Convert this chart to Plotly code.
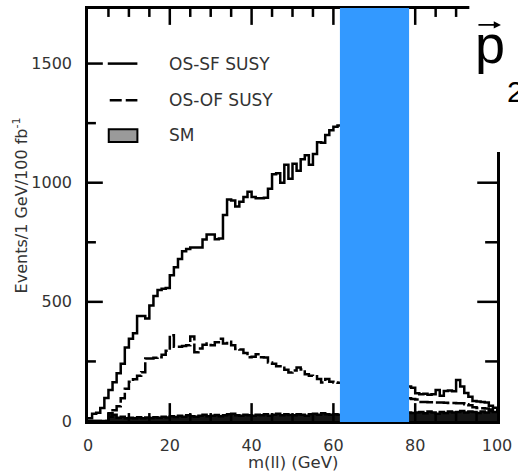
import plotly.graph_objects as go

# 1 GeV bins in m(ll), 0-100 GeV
bin_edges = list(range(0, 101))

# Events / 1 GeV / 100 fb^-1
os_sf_susy = [
    12, 30, 35, 55, 96, 130, 163, 200, 240, 308,
    345, 368, 441, 441, 430, 485, 525, 550, 555, 558,
    612, 645, 680, 712, 722, 728, 728, 728, 762, 783,
    783, 763, 766, 865, 930, 925, 900, 920, 940, 962,
    940, 935, 935, 937, 975, 1035, 1040, 1000, 1075, 1017,
    1080, 1050, 1098, 1115, 1075, 1120, 1170, 1168, 1200, 1220,
    1235, 1240, 1252, 1258, 1270, 1282, 1290, 1305, 1300, 1318,
    1330, 1325, 1345, 1350, 1362, 1370, 1375, 1390, 145, 140,
    116, 112, 114, 110, 112, 130, 106, 126, 128, 125,
    172, 145, 118, 102, 84, 82, 80, 78, 64, 56,
]
os_of_susy = [
    0, 0, 0, 0, 0, 18, 45, 62, 95, 135,
    165, 175, 190, 205, 262, 262, 265, 268, 278, 295,
    360, 312, 312, 315, 318, 355, 288, 304, 320, 325,
    318, 330, 345, 325, 333, 318, 302, 300, 285, 268,
    270, 280, 268, 266, 246, 240, 230, 230, 215, 204,
    212, 225, 216, 196, 190, 188, 176, 162, 176, 165,
    162, 160, 158, 150, 148, 140, 138, 132, 128, 125,
    120, 118, 112, 110, 105, 102, 100, 98, 95, 92,
    90, 80, 80, 79, 79, 78, 78, 77, 76, 76,
    75, 74, 70, 66, 58, 55, 54, 52, 48, 45,
]
sm_background = [
    0, 0, 0, 0, 0, 32, 26, 14, 18, 12,
    14, 12, 16, 12, 15, 13, 16, 14, 18, 15,
    20, 17, 22, 18, 24, 20, 18, 22, 26, 20,
    22, 25, 20, 24, 28, 30, 24, 22, 26, 24,
    22, 26, 24, 28, 22, 26, 30, 24, 28, 25,
    24, 28, 26, 22, 28, 30, 26, 32, 28, 26,
    28, 26, 30, 28, 32, 30, 28, 34, 30, 32,
    30, 34, 32, 30, 34, 36, 32, 34, 36, 34,
    36, 38, 32, 40, 36, 30, 38, 34, 40, 36,
    38, 42, 36, 40, 38, 34, 40, 36, 42, 38,
]

x_tick_vals = [0, 20, 40, 60, 80, 100]
y_tick_vals = [0, 500, 1000, 1500]
x_minor_vals = [v for v in range(0, 101, 5) if v not in x_tick_vals]
y_minor_vals = [250, 750, 1250]
x_range = [0, 100]
y_range = [0, 1729]
legend_labels = ["OS-SF SUSY", "OS-OF SUSY", "SM"]

W, H = 518, 473
L, R, T, B = 88, 16, 6, 52
PW, PH = W - L - R, H - T - B


def px(x):
    return (x - L) / PW


def py(y):
    return (H - B - y) / PH


def steps(vals):
    return vals + [vals[-1]]


fig = go.Figure()

fig.add_trace(go.Scatter(
    x=bin_edges, y=steps(sm_background), mode="lines",
    line=dict(shape="hv", color="black", width=2.5),
    fill="tozeroy", fillcolor="#151515", name=legend_labels[2],
))
fig.add_trace(go.Scatter(
    x=bin_edges, y=steps(os_of_susy), mode="lines",
    line=dict(shape="hv", color="black", width=2.5, dash="14px,3px"),
    name=legend_labels[1],
))
fig.add_trace(go.Scatter(
    x=bin_edges, y=steps(os_sf_susy), mode="lines",
    line=dict(shape="hv", color="black", width=2.5),
    name=legend_labels[0],
))

tick_font = dict(family="DejaVu Sans", size=16, color="#333333")
frame = dict(showline=True, linewidth=2.5, linecolor="black", mirror=True,
             showgrid=False, zeroline=False, ticks="")

fig.update_layout(
    width=W, height=H,
    margin=dict(l=L, r=R, t=T, b=B),
    paper_bgcolor="white", plot_bgcolor="white",
    showlegend=False,
    xaxis=dict(range=x_range, tickmode="array", tickvals=x_tick_vals,
               tickfont=tick_font, ticklabelstandoff=8, **frame),
    yaxis=dict(range=y_range, tickmode="array", tickvals=y_tick_vals,
               tickfont=tick_font, ticklabelstandoff=10, **frame),
)

shapes = []
annotations = []

# inward tick marks on all four sides of the frame (lengths in pixels)
TICK = dict(color="black", width=2.5)


def x_tick(v, bottom_len, top_len):
    shapes.append(dict(type="line", xref="x", yref="paper", x0=v, x1=v,
                       y0=0, y1=bottom_len / PH, line=TICK, layer="above"))
    shapes.append(dict(type="line", xref="x", yref="paper", x0=v, x1=v,
                       y0=1, y1=1 - top_len / PH, line=TICK, layer="above"))


def y_tick(v, left_len, right_len):
    shapes.append(dict(type="line", xref="paper", yref="y", y0=v, y1=v,
                       x0=0, x1=left_len / PW, line=TICK, layer="above"))
    shapes.append(dict(type="line", xref="paper", yref="y", y0=v, y1=v,
                       x0=1, x1=1 - right_len / PW, line=TICK, layer="above"))


for v in x_tick_vals[1:-1]:
    x_tick(v, 18, 16)
for v in x_minor_vals:
    x_tick(v, 8, 8)
for v in y_tick_vals[1:]:
    y_tick(v, 15, 20)
for v in y_minor_vals:
    y_tick(v, 8, 12)

# legend samples
shapes.append(dict(type="line", xref="paper", yref="paper",
                   x0=px(108), x1=px(138), y0=py(61), y1=py(61),
                   line=dict(color="black", width=2.5)))
shapes.append(dict(type="line", xref="paper", yref="paper",
                   x0=px(110), x1=px(138), y0=py(98), y1=py(98),
                   line=dict(color="black", width=2.5, dash="12px,4px")))
shapes.append(dict(type="rect", xref="paper", yref="paper",
                   x0=px(109), x1=px(138), y0=py(140), y1=py(127),
                   fillcolor="#9a9a9a", line=dict(color="black", width=2)))
for label, yy in zip(legend_labels, [61, 98, 133]):
    annotations.append(dict(text=label, xref="paper", yref="paper",
                            x=px(168), y=py(yy), xanchor="left", yanchor="middle",
                            showarrow=False,
                            font=dict(family="DejaVu Sans", size=17, color="#333333")))

# blue overlay band
shapes.append(dict(type="rect", xref="paper", yref="paper", layer="above",
                   x0=px(343), x1=px(413), y0=py(422), y1=py(5),
                   fillcolor="#3399ff", line=dict(width=0)))
# white panel carrying the momentum symbol
shapes.append(dict(type="rect", xref="paper", yref="paper", layer="above",
                   x0=px(474), x1=px(530), y0=py(150), y1=py(-10),
                   fillcolor="white", line=dict(width=0)))

annotations.append(dict(text="p", xref="paper", yref="paper",
                        x=px(478), y=py(9), xanchor="left", yanchor="top",
                        showarrow=False,
                        font=dict(family="Liberation Sans", size=54, color="black")))
annotations.append(dict(text="2", xref="paper", yref="paper",
                        x=px(510), y=py(70), xanchor="left", yanchor="top",
                        showarrow=False,
                        font=dict(family="Liberation Sans", size=30, color="black")))
annotations.append(dict(text="", xref="paper", yref="paper",
                        x=px(506), y=py(22), ax=-24, ay=0,
                        showarrow=True, arrowhead=2, arrowsize=0.9, arrowwidth=1.6,
                        arrowcolor="black"))

# axis titles
annotations.append(dict(text="m(ll) (GeV)", xref="paper", yref="paper",
                        x=px(295), y=py(463), xanchor="center", yanchor="middle",
                        showarrow=False,
                        font=dict(family="DejaVu Sans", size=16.5, color="#333333")))
annotations.append(dict(text="Events/1 GeV/100 fb<sup>-1</sup>", xref="paper", yref="paper",
                        x=px(20), y=py(204), xanchor="center", yanchor="middle",
                        textangle=-90, showarrow=False,
                        font=dict(family="DejaVu Sans", size=16, color="#333333")))

fig.update_layout(shapes=shapes, annotations=annotations)

fig.write_html("out.html")
